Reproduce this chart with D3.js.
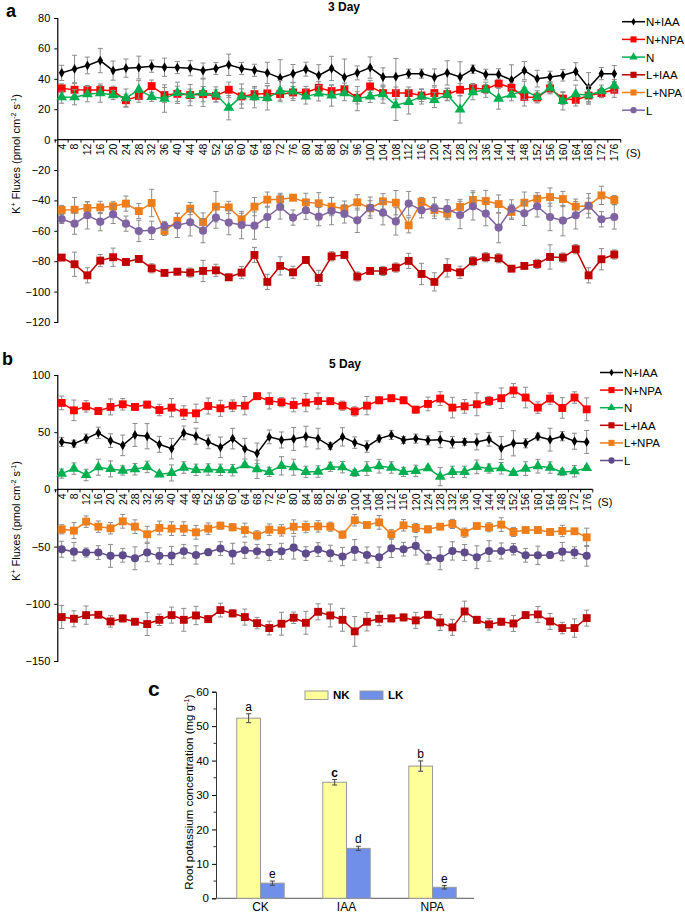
<!DOCTYPE html>
<html lang="en">
<head>
<meta charset="UTF-8">
<title>K+ fluxes</title>
<style>
  body { margin: 0; background: #fff; }
  svg { font-family: Arial, "Liberation Sans", sans-serif; }
</style>
</head>
<body>
<script src="https://d3js.org/d3.v7.min.js"></script>
<script>
// time points (s)
const times = d3.range(4, 177, 4);
const seriesNames = ['N+IAA', 'N+NPA', 'N', 'L+IAA', 'L+NPA', 'L'];

// ---- panel a : 3 day ----
const a_NIAA = [43.9,46.5,48.8,52,45.4,47,47.4,48.3,47.6,47.4,47,45.4,46.8,49.2,46.8,45.6,43.9,40.6,43.4,46.3,42.3,46.8,
  41,43.9,47.4,41.2,41.4,43.4,43.4,41,43.9,41.2,46.3,42.8,42.8,39.2,45.4,40.1,41.2,42.3,44.8,34.1,43.4,43.4];
const a_NIAA_err = [5,9,5.5,8,6.3,6,7.5,4,6,4,5,5,4,7,4,4,7,12,6,4.6,7,8,
  12,4.6,7,6,12,3,3,5.5,8,10,2.7,3.5,3.8,10,6,5.5,3.8,3.8,5.8,10,4,5.3];
const a_NNPA = [33.7,32.8,32.6,32.6,32.1,25.9,28.6,35.2,29.3,30.1,29.3,29.9,28.8,32.8,28.4,29.9,30.4,29.9,31,31,34.1,31.9,
  33.2,27.5,35,30.6,30.6,30.6,29,30.6,29.9,32.8,33.9,33.2,36.8,34.1,28.1,27.7,33.7,27,26.1,29,30.6,32.8];
const a_NNPA_err = [3,4,3,3,3,4,4,4,5,5,4,5,4,5,5,4,5,4,4,4,4,4,
  4,4,4,4,4,4,4,4,4,4,3,3,3,3,6,3,3,4,4,4,3,5];
const a_N = [27.9,27.9,29.9,30.6,29.3,27.3,32.8,28.1,27,30.8,29.3,30.8,29.7,21,28.6,27.9,27.5,31.9,31.7,28.4,30.4,29,
  30.6,27,28.4,29.9,22.6,24.8,28.4,26.1,29.5,19.9,31.2,32.8,27,29.5,32.4,28.1,34.1,25.5,29.9,29.3,31.9,35.5];
const a_N_err = [4,5,5,6,3,6,6,3,9,7,7,9,5,8,8,7,8,7,6,5,5,7,
  5,8,4,6,10,8,5,5,4,9,5,5,7,4,6,4,4,6,6,6,4,4];
const a_LIAA = [-77.6,-82,-89.3,-79.6,-77.4,-80.5,-78.5,-84.7,-87.7,-86.9,-87.5,-86.4,-86,-90.6,-87.5,-75.9,-93.6,-83.1,-87.3,-79.2,-91,-76.8,
  -75.9,-90.1,-86.4,-86.4,-84.2,-79.8,-88.4,-93.6,-84.4,-87.3,-80,-77.4,-78.1,-84.9,-83.1,-81.8,-77.2,-77.6,-72.1,-89.3,-78.7,-75.6];
const a_LIAA_err = [2,8,5,4,6,2,2,3,2,2,3,7,4,2,4,5,5,6,4,2,5,3,
  2,3,2,3,3,5,7,6,6,4,3,3,3,2,2,3,8,3,3,5,7,3];
const a_LNPA = [-46.3,-46.1,-45,-44.6,-43.9,-42.1,-47,-41.7,-60.1,-53.5,-45.4,-54.2,-44.1,-44.6,-52.4,-44.1,-39.5,-39.3,-38.2,-41.3,-41.9,-44.1,
  -45.4,-41.3,-45.2,-40.6,-41.5,-56.4,-41,-46.3,-48.7,-44.3,-39.7,-40.4,-42.4,-47.6,-41.5,-38.9,-37.8,-39.1,-44.1,-43.5,-36.7,-39.7];
const a_LNPA_err = [3,8,4,4,3,5,5,9,3,5,4,6,10,4,4,6,5,4,2,6,7,6,
  5,5,5,5,8,5,3,4,4,5,6,7,6,5,7,4,6,5,5,5,6,3];
const a_L = [-52.2,-55.3,-49.8,-54,-49.2,-55.3,-60.1,-59.7,-56.8,-56.4,-54.4,-59.9,-51.3,-54.6,-56.2,-56.6,-50.9,-44.3,-51.3,-46.5,-50.7,-47,
  -48.9,-53.1,-44.8,-48.1,-53.8,-42.1,-46.5,-45,-45.6,-49.6,-43.9,-48.7,-57.9,-45.6,-48.5,-43.9,-50.9,-53.3,-49.8,-43.5,-52.4,-50.9];
const a_L_err = [3,7,9,6,6,5,7,6,3,8,9,8,7,8,9,9,7,8,5,6,6,9,
  6,8,7,8,9,8,5,7,6,9,9,8,10,6,8,7,9,10,9,8,5,8];

// ---- panel b : 5 day ----
const b_NIAA = [41.5,40,44.4,49.4,42.6,38.5,47.6,46.5,39.4,35.6,49.4,46.5,41.5,36.8,44.4,35.6,31.5,45.9,43.2,44.1,46.2,44.4,
  37.9,45.9,40.9,37.4,44.4,47.6,43.2,44.4,42.9,43.5,41.2,41.5,41.5,43.8,36.2,40.3,40.3,46.2,43.5,46.5,42.1,41.5];
const b_NIAA_err = [4,3,4,5,6,9,10,11,7,9,6,7,6,9,9,9,9,6,7,10,9,9,
  3,8,5,5,3,4,3,4,4,7,5,3,7,6,10,11,4,3,10,4,7,10];
const b_NNPA = [75.6,69.1,72.6,68.5,72.1,74.4,72.1,74.1,69.4,71.5,67.1,66.5,72.9,70.9,73.2,73.2,81.5,77.3,76.2,73.8,75.9,77.3,
  77.1,73.2,68.2,73.2,77.9,79.7,77.9,69.7,74.7,79.4,71.5,72.6,74.4,77.3,79.7,86.5,80.3,71.5,79.4,71.2,80.3,70];
const b_NNPA_err = [6,9,5,3,7,5,3,3,5,8,6,8,7,7,5,8,3,7,4,6,8,7,
  3,4,4,8,3,3,3,3,6,6,9,6,10,4,9,6,9,5,5,9,5,10];
const b_N = [13.8,18.2,12.6,19.4,17.9,16.5,17.6,19.7,13.2,14.4,19.1,17.1,17.4,17.1,16.8,21.2,17.6,15.3,20.6,19.4,15.3,15.6,
  19.7,19.4,14.4,18.2,20.3,19.1,15.3,16.2,18.5,11.2,15.3,15.3,19.7,18.2,18.5,14.4,18.2,20.3,19.1,15,15.9,18.8];
const b_N_err = [4,5,5,7,7,4,5,5,2,7,5,5,5,5,5,2,8,4,8,7,5,5,
  4,5,3,6,6,5,4,5,2,8,5,5,6,4,5,2,6,6,5,3,5,2];
const b_LIAA = [-111.6,-113.1,-109.9,-109.6,-115.4,-112.8,-115.7,-117.7,-114,-109.9,-114,-110.2,-113.4,-105.5,-108.4,-111.6,-116.9,-121.2,-117.4,-112.2,-116.6,-107,
  -110.2,-114,-124.1,-115.7,-113.1,-112.8,-111.9,-114.5,-109.6,-116.3,-120.6,-106.7,-114,-118,-115.7,-117.2,-109.9,-109.3,-115.4,-121.2,-121.2,-112.5];
const b_LIAA_err = [10,7,8,2,5,3,2,10,5,7,10,8,3,6,3,7,5,6,10,5,10,7,
  10,10,13,8,6,3,3,7,3,7,7,9,3,5,3,7,3,7,7,5,8,7];
const b_LNPA = [-34.9,-36,-28.2,-32.6,-34,-27.9,-32.6,-39.2,-33.7,-34.3,-34.3,-37.5,-34.3,-31.7,-33.1,-35.5,-40.1,-35.2,-35.8,-32.6,-32.8,-32.3,
  -32.6,-39.5,-27,-31.1,-28.8,-39.2,-31.4,-33.7,-34.9,-32.6,-30.2,-37.8,-32,-33.1,-30.8,-37.2,-35.5,-35.5,-37.2,-36.3,-36.6,-41.9];
const b_LNPA_err = [4,7,5,5,5,6,6,7,6,6,6,6,5,3,3,6,4,5,5,6,5,5,
  4,3,5,2,6,4,5,4,3,2,4,4,2,4,6,4,2,3,3,5,2,8];
const b_L = [-52.3,-54.4,-55.2,-55.2,-58.1,-57.6,-60.2,-55.2,-58.1,-57.8,-54.1,-57.3,-54.9,-51.7,-56.1,-53.2,-54.1,-55.2,-54.1,-50.9,-56.1,-52.6,
  -55.8,-58.7,-52.9,-57.3,-59.3,-51.5,-52.3,-49.4,-59.3,-60.2,-53.8,-55.2,-59.3,-53.8,-53.8,-52.3,-57.6,-57.6,-57.3,-54.4,-55.2,-58.1];
const b_L_err = [7,8,4,6,10,6,10,8,7,8,6,8,3,6,9,7,6,7,7,10,6,6,
  7,8,9,7,9,8,6,8,6,10,8,7,10,9,7,5,6,8,3,8,5,9];

// ---- panel c : root potassium ----
const treatments = ['CK', 'IAA', 'NPA'];
const nk = [52.3, 33.7, 38.4];
const nk_err = [1.3, 0.8, 1.5];
const lk = [4.4, 14.5, 3.2];
const lk_err = [0.6, 0.6, 0.5];
const nkLetters = ['a', 'c', 'b'];
const lkLetters = ['e', 'd', 'e'];

const W = 685, H = 915;
const svg = d3.select('body').append('svg').attr('width', W).attr('height', H);

const styles = {
  'N+IAA': {color: '#000000', sym: d3.symbolDiamond, size: 28},
  'N+NPA': {color: '#ff0000', sym: d3.symbolSquare, size: 62},
  'N':     {color: '#00b050', sym: d3.symbolTriangle, size: 50},
  'L+IAA': {color: '#c00000', sym: d3.symbolSquare, size: 62},
  'L+NPA': {color: '#ee7d1a', sym: d3.symbolSquare, size: 62},
  'L':     {color: '#8064a2', sym: d3.symbolCircle, size: 52}
};

function fluxLabel(g, x, y) {
  const t = g.append('text').attr('transform', `translate(${x},${y}) rotate(-90)`)
    .attr('text-anchor', 'middle').attr('font-size', 11);
  t.append('tspan').text('K');
  t.append('tspan').attr('font-size', 7).attr('dy', -4).text('+');
  t.append('tspan').attr('dy', 4).text(' Fluxes (pmol cm');
  t.append('tspan').attr('font-size', 7).attr('dy', -4).text('-2');
  t.append('tspan').attr('dy', 4).text(' s');
  t.append('tspan').attr('font-size', 7).attr('dy', -4).text('-1');
  t.append('tspan').attr('dy', 4).text(')');
}

function drawPanel(cfg) {
  const g = svg.append('g');
  const x = d3.scalePoint().domain(times).range(cfg.xr);
  const y = d3.scaleLinear().domain(cfg.yd).range(cfg.yr);
  const step = x.step();

  // y axis
  const yAxis = g.append('g').attr('transform', `translate(${cfg.axX},0)`)
    .call(d3.axisLeft(y).tickValues(cfg.yticks).tickSize(3).tickPadding(4));
  yAxis.select('.domain').attr('stroke', '#000').attr('stroke-width', 1.2);
  yAxis.selectAll('.tick line').attr('stroke', '#000');
  yAxis.selectAll('.tick text').attr('font-size', 11).attr('fill', '#000').attr('font-family', 'Arial, Liberation Sans, sans-serif');

  // x axis at zero
  const y0 = y(0);
  g.append('line').attr('x1', cfg.axX).attr('x2', cfg.axEnd).attr('y1', y0).attr('y2', y0)
    .attr('stroke', '#000').attr('stroke-width', 1.2);
  const bounds = times.map(t => x(t) - step / 2).concat([x(times[times.length - 1]) + step / 2]);
  g.selectAll('.xt').data(bounds).join('line')
    .attr('x1', d => d).attr('x2', d => d).attr('y1', y0).attr('y2', y0 + 3)
    .attr('stroke', '#000');
  g.selectAll('.xl').data(times).join('text')
    .attr('transform', d => `translate(${x(d) + 3.8},${y0 + 4}) rotate(-90)`)
    .attr('text-anchor', 'end').attr('font-size', 10.5).text(d => d);
  g.append('text').attr('x', cfg.axEnd + 5).attr('y', y0 + 17).attr('font-size', 11).text('(S)');

  // series
  seriesNames.forEach((name, i) => {
    const vals = cfg.values[i], errs = cfg.errors[i];
    const st = Object.assign({}, styles[name], cfg.override && cfg.override[name] || {});
    const pts = times.map((t, j) => ({t, v: vals[j], e: errs[j]}));
    const eg = g.append('g').attr('stroke', '#8c8c8c').attr('stroke-width', 1);
    pts.forEach(p => {
      const cx = x(p.t);
      eg.append('line').attr('x1', cx).attr('x2', cx).attr('y1', y(p.v - p.e)).attr('y2', y(p.v + p.e));
      [p.v - p.e, p.v + p.e].forEach(v => eg.append('line')
        .attr('x1', cx - 2.5).attr('x2', cx + 2.5).attr('y1', y(v)).attr('y2', y(v)));
    });
    g.append('path').datum(pts).attr('fill', 'none').attr('stroke', st.color).attr('stroke-width', 1.5)
      .attr('d', d3.line().x(p => x(p.t)).y(p => y(p.v)));
    g.selectAll(null).data(pts).join('path')
      .attr('transform', p => `translate(${x(p.t)},${y(p.v)})`)
      .attr('d', d3.symbol().type(st.sym).size(st.size)).attr('fill', st.color);

    // legend
    const ly = cfg.legY + i * cfg.legStep;
    g.append('line').attr('x1', cfg.legX).attr('x2', cfg.legX + 23).attr('y1', ly).attr('y2', ly)
      .attr('stroke', st.color).attr('stroke-width', 1.5);
    g.append('path').attr('transform', `translate(${cfg.legX + 11.5},${ly})`)
      .attr('d', d3.symbol().type(st.sym).size(st.size * 0.6)).attr('fill', st.color);
    g.append('text').attr('x', cfg.legX + 24).attr('y', ly + 4.5).attr('font-size', 11.5).text(name);
  });

  g.append('text').attr('x', cfg.titleX).attr('y', cfg.titleY).attr('text-anchor', 'middle')
    .attr('font-size', 12).attr('font-weight', 'bold').text(cfg.title);
  g.append('text').attr('x', cfg.letterX).attr('y', cfg.letterY)
    .attr('font-size', 18).attr('font-weight', 'bold').text(cfg.letter);
  fluxLabel(g, cfg.labX, cfg.labY);
}

drawPanel({
  letter: 'a', letterX: 6, letterY: 17, title: '3 Day', titleX: 344, titleY: 11,
  xr: [61.7, 614.3], axX: 57.3, axEnd: 621,
  yd: [-120, 80], yr: [322, 18], yticks: d3.range(-120, 81, 20),
  values: [a_NIAA, a_NNPA, a_N, a_LIAA, a_LNPA, a_L],
  errors: [a_NIAA_err, a_NNPA_err, a_N_err, a_LIAA_err, a_LNPA_err, a_L_err],
  legX: 622, legY: 21.7, legStep: 17.7, labX: 20, labY: 154
});

drawPanel({
  letter: 'b', letterX: 2, letterY: 365, title: '5 Day', titleX: 345, titleY: 368,
  xr: [61.7, 586.7], axX: 57.3, axEnd: 592.7,
  yd: [-150, 100], yr: [661, 375], yticks: d3.range(-150, 101, 50),
  values: [b_NIAA, b_NNPA, b_N, b_LIAA, b_LNPA, b_L],
  errors: [b_NIAA_err, b_NNPA_err, b_N_err, b_LIAA_err, b_LNPA_err, b_L_err],
  override: {'L': {color: '#5e4b8b'}},
  legX: 600, legY: 372.5, legStep: 17.6, labX: 20, labY: 521
});

// ---- panel c ----
(function () {
  const g = svg.append('g');
  const x = d3.scaleBand().domain(treatments).range([216, 474]);
  const y = d3.scaleLinear().domain([0, 60]).range([898.3, 691.7]);
  const bw = 23.7;

  const yAxis = g.append('g').attr('transform', 'translate(216,0)')
    .call(d3.axisLeft(y).tickValues(d3.range(0, 61, 10)).tickSize(4).tickPadding(3));
  yAxis.select('.domain').attr('stroke', '#333');
  yAxis.selectAll('.tick text').attr('font-size', 11.5).attr('fill', '#000');
  g.selectAll('.minor').data(d3.range(5, 60, 10)).join('line')
    .attr('x1', 213.5).attr('x2', 216).attr('y1', d => y(d)).attr('y2', d => y(d)).attr('stroke', '#333');
  g.append('line').attr('x1', 216).attr('x2', 474).attr('y1', y(0)).attr('y2', y(0))
    .attr('stroke', '#777').attr('stroke-width', 1.2);

  const groups = [
    {vals: nk, errs: nk_err, letters: nkLetters, fill: '#ffff99', off: -bw},
    {vals: lk, errs: lk_err, letters: lkLetters, fill: '#6f8fe8', off: 0}
  ];
  groups.forEach(gr => {
    treatments.forEach((t, i) => {
      const cx = x(t) + x.bandwidth() / 2 + 1.5;
      const x0 = cx + gr.off;
      g.append('rect').attr('x', x0).attr('y', y(gr.vals[i])).attr('width', bw)
        .attr('height', y(0) - y(gr.vals[i])).attr('fill', gr.fill).attr('stroke', '#999').attr('stroke-width', 1);
      const mx = x0 + bw / 2;
      const top = y(gr.vals[i] + gr.errs[i]), bot = y(gr.vals[i] - gr.errs[i]);
      g.append('line').attr('x1', mx).attr('x2', mx).attr('y1', top).attr('y2', bot).attr('stroke', '#444');
      [top, bot].forEach(v => g.append('line').attr('x1', mx - 2.5).attr('x2', mx + 2.5)
        .attr('y1', v).attr('y2', v).attr('stroke', '#444'));
      g.append('text').attr('x', mx).attr('y', top - 3).attr('text-anchor', 'middle')
        .attr('font-size', 12).attr('font-weight', gr.letters[i] === 'c' ? 'bold' : 'normal').text(gr.letters[i]);
    });
  });

  g.selectAll('.cat').data(treatments).join('text')
    .attr('x', d => x(d) + x.bandwidth() / 2 + 1.5).attr('y', 911).attr('text-anchor', 'middle')
    .attr('font-size', 12).text(d => d);

  // legend
  [['NK', '#ffff99', 305], ['LK', '#6f8fe8', 360]].forEach(([n, c, lx]) => {
    g.append('rect').attr('x', lx).attr('y', 691).attr('width', 23).attr('height', 8.5)
      .attr('fill', c).attr('stroke', '#999');
    g.append('text').attr('x', lx + 28).attr('y', 699).attr('font-size', 11.5).attr('font-weight', 'bold').text(n);
  });

  const t = g.append('text').attr('transform', 'translate(193,792) rotate(-90)')
    .attr('text-anchor', 'middle').attr('font-size', 11.5);
  t.append('tspan').text('Root potassium concentration (mg g');
  t.append('tspan').attr('font-size', 7.5).attr('dy', -4).text('-1');
  t.append('tspan').attr('dy', 4).text(')');

  g.append('text').attr('x', 148).attr('y', 696).attr('font-size', 21).attr('font-weight', 'bold').text('c');
})();
</script>
</body>
</html>
